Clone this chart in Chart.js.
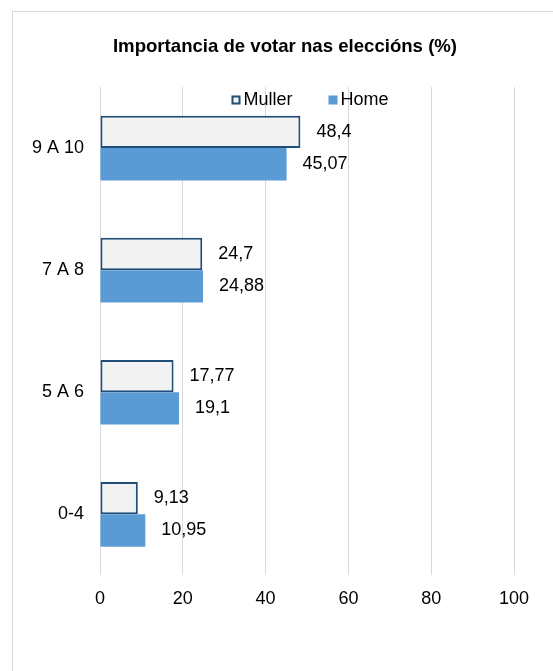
<!DOCTYPE html>
<html>
<head>
<meta charset="utf-8">
<script src="https://cdn.jsdelivr.net/npm/chart.js@4.4.1/dist/chart.umd.min.js"></script>
<style>
  body { margin: 0; overflow: hidden; background: #fff; }
  #frame { position: absolute; left: 12px; top: 11px; width: 700px; height: 800px;
           border-top: 1px solid #d9d9d9; border-left: 1px solid #d9d9d9; }
  #chart { position: absolute; left: 0; top: 0; }
</style>
</head>
<body>
<div id="frame"></div>
<canvas id="chart" width="553" height="671"></canvas>
<script>
const categories = ["9 A 10", "7 A 8", "5 A 6", "0-4"];
const muller = [48.4, 24.7, 17.77, 9.13];
const home = [45.07, 24.88, 19.1, 10.95];
const xTicks = [0, 20, 40, 60, 80, 100];
const chartTitle = 'Importancia de votar nas eleccións (%)';

const FONT = '"Liberation Sans", Arial, sans-serif';

// title centred on the whole chart box (which runs past the right edge)
const boxTitle = {
  id: 'boxTitle',
  afterDraw(chart) {
    const ctx = chart.ctx;
    ctx.save();
    ctx.font = 'bold 18.6px ' + FONT;
    ctx.fillStyle = '#000';
    ctx.textAlign = 'center';
    ctx.textBaseline = 'middle';
    ctx.fillText(chartTitle, 285, 47);
    ctx.restore();
  }
};

// value labels to the right of each bar, with decimal comma
const valueLabels = {
  id: 'valueLabels',
  afterDatasetsDraw(chart) {
    const ctx = chart.ctx;
    ctx.save();
    ctx.font = '18px ' + FONT;
    ctx.fillStyle = '#000';
    ctx.textBaseline = 'middle';
    chart.data.datasets.forEach((ds, i) => {
      chart.getDatasetMeta(i).data.forEach((bar, j) => {
        ctx.fillText(String(ds.data[j]).replace('.', ','), bar.x + 16, bar.y);
      });
    });
    ctx.restore();
  }
};

// legend drawn over the top of the plot area, like the Excel one
const topLegend = {
  id: 'topLegend',
  afterDraw(chart) {
    const ctx = chart.ctx, area = chart.chartArea;
    ctx.save();
    ctx.font = '18px ' + FONT;
    ctx.textBaseline = 'middle';
    const box = 9, gapText = 3, gapItem = 36;
    const items = chart.data.datasets.map(ds => ({
      text: ds.label, fill: ds.backgroundColor,
      stroke: ds.borderWidth ? ds.borderColor : null,
      w: ctx.measureText(ds.label).width
    }));
    let total = 0;
    items.forEach((it, i) => { total += box + gapText + it.w + (i ? gapItem : 0); });
    let x = (area.left + area.right) / 2 - total / 2 + 3;
    const y = area.top + 13;
    items.forEach(it => {
      ctx.fillStyle = it.fill;
      ctx.fillRect(x, y - box / 2, box, box);
      if (it.stroke) {
        ctx.strokeStyle = it.stroke;
        ctx.lineWidth = 2;
        ctx.strokeRect(x + 1, y - box / 2 + 1, box - 2, box - 2);
      }
      ctx.fillStyle = '#000';
      ctx.fillText(it.text, x + box + gapText, y);
      x += box + gapText + it.w + gapItem;
    });
    ctx.restore();
  }
};

new Chart(document.getElementById('chart'), {
  type: 'bar',
  data: {
    labels: categories,
    datasets: [{
      label: 'Muller',
      data: muller,
      backgroundColor: '#f2f2f2',
      borderColor: '#1f4e79',
      borderWidth: 2,
      borderSkipped: false
    }, {
      label: 'Home',
      data: home,
      backgroundColor: '#5b9bd5',
      borderWidth: 0
    }]
  },
  options: {
    indexAxis: 'y',
    responsive: false,
    animation: false,
    categoryPercentage: 0.53,
    barPercentage: 1.0,
    layout: { padding: { left: 0, right: 39, top: 87, bottom: 48 } },
    plugins: {
      legend: { display: false },
      tooltip: { enabled: false },
      title: { display: false }
    },
    scales: {
      x: {
        min: 0, max: 100,
        afterBuildTicks: s => { s.ticks = xTicks.map(v => ({ value: v })); },
        grid: { color: '#d9d9d9', lineWidth: 1, drawTicks: false },
        border: { display: false },
        ticks: { color: '#000', padding: 13, font: { family: FONT, size: 18 } }
      },
      y: {
        grid: { display: false, drawTicks: false },
        border: { display: false },
        ticks: { color: '#000', padding: 16, font: { family: FONT, size: 18 } },
        afterFit: s => { s.width = 100; }
      }
    }
  },
  plugins: [boxTitle, valueLabels, topLegend]
});
</script>
</body>
</html>
